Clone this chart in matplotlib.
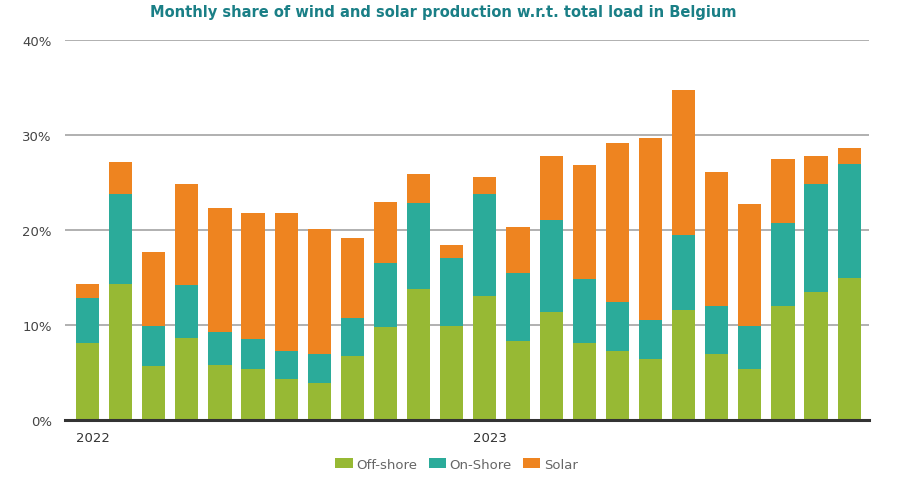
import matplotlib
matplotlib.use("Agg")
import matplotlib.pyplot as plt
import numpy as np

months = [f"{y}-{m:02d}" for y in (2022, 2023) for m in range(1, 13)]
offshore = [8.1, 14.25, 5.6, 8.6, 5.75, 5.35, 4.3, 3.85, 6.65, 9.75, 13.75, 9.9,
            13.0, 8.3, 11.3, 8.1, 7.25, 6.35, 11.55, 6.95, 5.35, 11.95, 13.45, 14.9]
onshore = [4.75, 9.55, 4.3, 5.6, 3.45, 3.1, 2.95, 3.1, 4.0, 6.75, 9.0, 7.1,
           10.8, 7.1, 9.7, 6.7, 5.15, 4.15, 7.85, 5.0, 4.55, 8.75, 11.4, 12.0]
solar = [1.4, 3.3, 7.7, 10.65, 13.1, 13.25, 14.5, 13.15, 8.45, 6.4, 3.15, 1.35,
         1.7, 4.9, 6.7, 12.0, 16.75, 19.1, 15.25, 14.1, 12.75, 6.7, 2.85, 1.65]
year_labels = ["2022", "2023"]
year_idx = [0, 12]
yticks = [0, 10, 20, 30, 40]

c_off = "#97B934"
c_on = "#2BAB9A"
c_sol = "#EE8420"

fig = plt.figure(figsize=(9, 4.89), dpi=100)
ax = fig.add_axes([0.0722, 0.140, 0.8934, 0.7768])

x = np.arange(len(months))
w = 0.70
off = np.array(offshore)
on = np.array(onshore)
sol = np.array(solar)
ax.bar(x, off, w, color=c_off, label="Off-shore", zorder=3)
ax.bar(x, on, w, bottom=off, color=c_on, label="On-Shore", zorder=3)
ax.bar(x, sol, w, bottom=off + on, color=c_sol, label="Solar", zorder=3)

ax.set_xlim(-0.68, 23.6)
ax.set_ylim(0, 40)
ax.set_yticks(yticks)
ax.set_yticklabels([f"{v}%" for v in yticks], fontsize=9.5, color="#444444")
ax.tick_params(axis="y", length=0, pad=9.5)
for v in yticks[1:]:
    ax.axhline(v, color="#AAAAAA", lw=1.3, zorder=1)
ax.axhline(0, color="#333333", lw=2.2, zorder=4, clip_on=False)

ax.set_xticks([i - w / 2 for i in year_idx])
ax.set_xticklabels(year_labels, fontsize=9.5, color="#333333", ha="left")
ax.tick_params(axis="x", length=0, pad=8)

for s in ax.spines.values():
    s.set_visible(False)

fig.text(0.492, 0.975, "Monthly share of wind and solar production w.r.t. total load in Belgium",
         ha="center", va="center", fontsize=10.5, fontweight="bold", color="#1A7F86")

leg = ax.legend(loc="upper center", bbox_to_anchor=(0.487, -0.07), ncol=3, frameon=False,
                fontsize=9.5, handlelength=1.3, handleheight=0.8, handletextpad=0.25,
                columnspacing=0.9)
for t in leg.get_texts():
    t.set_color("#666666")

fig.savefig("out.png", dpi=100)
